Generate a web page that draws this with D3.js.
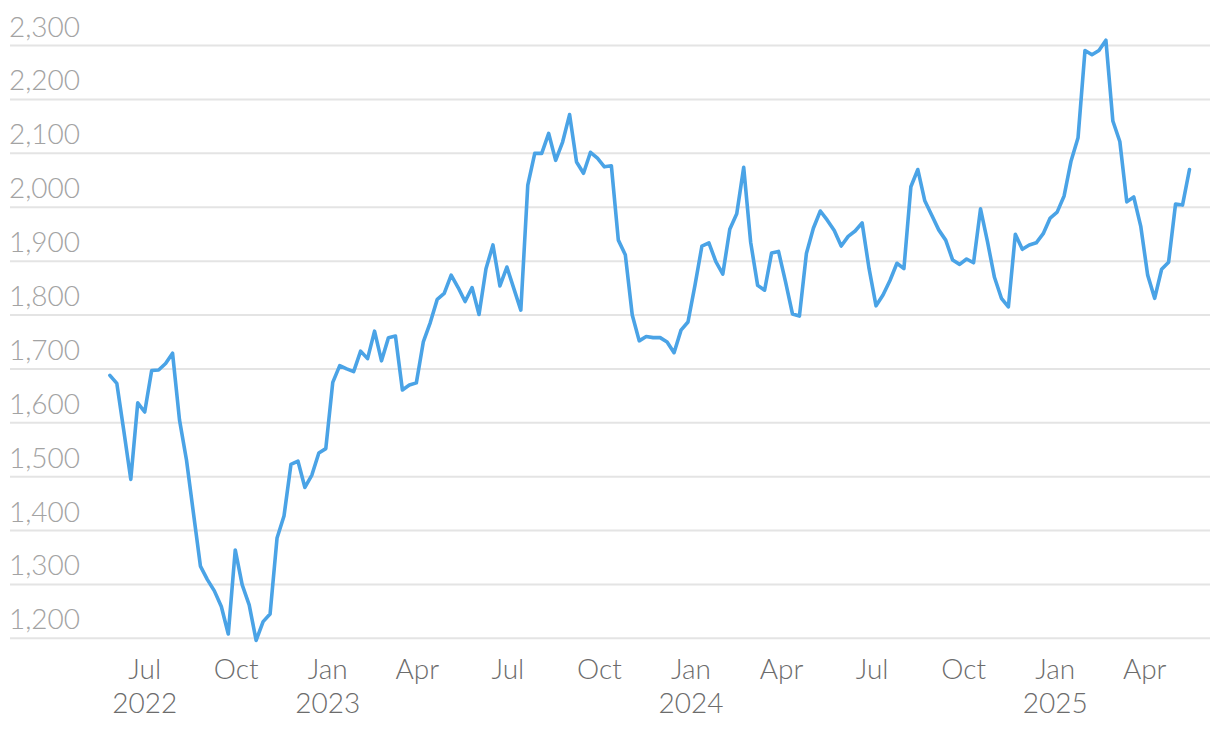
<!DOCTYPE html>
<html>
<head>
<meta charset="utf-8">
<script src="https://cdn.jsdelivr.net/npm/d3@7"></script>
<style>
  html, body { margin: 0; padding: 0; background: #ffffff; }
  svg { display: block; }
</style>
</head>
<body>
<svg id="chart" width="1220" height="732"></svg>
<script>
// Weekly observation dates
const dates = [
"2022-05-27","2022-06-03","2022-06-10","2022-06-17","2022-06-24","2022-07-01","2022-07-08","2022-07-15","2022-07-22","2022-07-29",
"2022-08-05","2022-08-12","2022-08-19","2022-08-26","2022-09-02","2022-09-09","2022-09-16","2022-09-23","2022-09-30","2022-10-07",
"2022-10-14","2022-10-21","2022-10-28","2022-11-04","2022-11-11","2022-11-18","2022-11-25","2022-12-02","2022-12-09","2022-12-16",
"2022-12-23","2022-12-30","2023-01-06","2023-01-13","2023-01-20","2023-01-27","2023-02-03","2023-02-10","2023-02-17","2023-02-24",
"2023-03-03","2023-03-10","2023-03-17","2023-03-24","2023-03-31","2023-04-07","2023-04-14","2023-04-21","2023-04-28","2023-05-05",
"2023-05-12","2023-05-19","2023-05-26","2023-06-02","2023-06-09","2023-06-16","2023-06-23","2023-06-30","2023-07-07","2023-07-14",
"2023-07-21","2023-07-28","2023-08-04","2023-08-11","2023-08-18","2023-08-25","2023-09-01","2023-09-08","2023-09-15","2023-09-22",
"2023-09-29","2023-10-06","2023-10-13","2023-10-20","2023-10-27","2023-11-03","2023-11-10","2023-11-17","2023-11-24","2023-12-01",
"2023-12-08","2023-12-15","2023-12-22","2023-12-29","2024-01-05","2024-01-12","2024-01-19","2024-01-26","2024-02-02","2024-02-09",
"2024-02-16","2024-02-23","2024-03-01","2024-03-08","2024-03-15","2024-03-22","2024-03-29","2024-04-05","2024-04-12","2024-04-19",
"2024-04-26","2024-05-03","2024-05-10","2024-05-17","2024-05-24","2024-05-31","2024-06-07","2024-06-14","2024-06-21","2024-06-28",
"2024-07-05","2024-07-12","2024-07-19","2024-07-26","2024-08-02","2024-08-09","2024-08-16","2024-08-23","2024-08-30","2024-09-06",
"2024-09-13","2024-09-20","2024-09-27","2024-10-04","2024-10-11","2024-10-18","2024-10-25","2024-11-01","2024-11-08","2024-11-15",
"2024-11-22","2024-11-29","2024-12-06","2024-12-13","2024-12-20","2024-12-27","2025-01-03","2025-01-10","2025-01-17","2025-01-24",
"2025-01-31","2025-02-07","2025-02-14","2025-02-21","2025-02-28","2025-03-07","2025-03-14","2025-03-21","2025-03-28","2025-04-04",
"2025-04-11","2025-04-18","2025-04-25","2025-05-02","2025-05-09","2025-05-16"
];

// Series values
const values = [
1688,1673,1585,1495,1637,1620,1697,1698,1710,1729,
1605,1531,1432,1334,1309,1288,1259,1208,1364,1299,
1262,1196,1231,1245,1386,1427,1523,1529,1480,1503,
1544,1552,1675,1706,1700,1695,1733,1719,1770,1715,
1758,1761,1661,1670,1674,1750,1786,1829,1840,1874,
1851,1825,1851,1801,1886,1930,1854,1889,1849,1809,
2041,2100,2100,2137,2087,2121,2172,2084,2063,2102,
2091,2075,2077,1939,1912,1800,1752,1760,1758,1758,
1750,1730,1772,1787,1855,1928,1934,1899,1876,1959,
1988,2074,1935,1855,1846,1915,1918,1862,1802,1798,
1914,1961,1993,1976,1957,1928,1946,1956,1971,1886,
1817,1837,1864,1896,1886,2038,2070,2012,1985,1958,
1939,1902,1894,1904,1897,1997,1936,1870,1831,1815,
1950,1922,1930,1934,1951,1980,1991,2021,2086,2129,
2291,2283,2291,2310,2160,2122,2010,2019,1965,1874,
1831,1885,1898,2006,2004,2070
];

// Tick labels
const yTicks = [1200,1300,1400,1500,1600,1700,1800,1900,2000,2100,2200,2300];
const xTickDates = ["2022-07-01","2022-10-01","2023-01-01","2023-04-01","2023-07-01","2023-10-01",
                    "2024-01-01","2024-04-01","2024-07-01","2024-10-01","2025-01-01","2025-04-01"];
const xTickMonths = ["Jul","Oct","Jan","Apr","Jul","Oct","Jan","Apr","Jul","Oct","Jan","Apr"];
const xTickYears  = ["2022","","2023","","","","2024","","","","2025",""];

const parse = d3.timeParse("%Y-%m-%d");
const data = dates.map((d, i) => ({ date: parse(d), value: values[i] }));

const svg = d3.select("#chart");
const font = "Lato, 'Open Sans', sans-serif";
const fs = 28;

const x = d3.scaleTime()
  .domain([parse("2022-07-01"), parse("2025-04-01")])
  .range([144.7, 1144.7]);

const y = d3.scaleLinear()
  .domain([1200, 2300])
  .range([638.3, 45.6]);

// Gridlines
svg.append("g").attr("class", "grid")
  .selectAll("line")
  .data(yTicks)
  .join("line")
  .attr("x1", 10)
  .attr("x2", 1210)
  .attr("y1", d => y(d))
  .attr("y2", d => y(d))
  .attr("stroke", "#e4e4e4")
  .attr("stroke-width", 2);

// Y labels (above gridlines, left aligned)
svg.append("g").selectAll("text")
  .data(yTicks)
  .join("text")
  .attr("x", 9)
  .attr("y", d => y(d) - 9)
  .attr("font-family", font)
  .attr("font-weight", 300)
  .attr("font-size", fs)
  .attr("fill", "#a3a3a3")
  .text(d => d3.format(",")(d));

// X labels
const xg = svg.append("g");
xTickDates.forEach((d, i) => {
  const xp = x(parse(d));
  xg.append("text")
    .attr("x", xp)
    .attr("y", 679)
    .attr("text-anchor", "middle")
    .attr("font-family", font)
    .attr("font-weight", 300)
    .attr("font-size", fs)
    .attr("fill", "#6c6c6c")
    .text(xTickMonths[i]);
  if (xTickYears[i]) {
    xg.append("text")
      .attr("x", xp)
      .attr("y", 713)
      .attr("text-anchor", "middle")
      .attr("font-family", font)
      .attr("font-weight", 300)
      .attr("font-size", fs)
      .attr("fill", "#6c6c6c")
      .text(xTickYears[i]);
  }
});

// Line
const line = d3.line()
  .x(d => x(d.date))
  .y(d => y(d.value));

svg.append("path")
  .datum(data)
  .attr("fill", "none")
  .attr("stroke", "#4aa3e6")
  .attr("stroke-width", 3.6)
  .attr("stroke-linejoin", "round")
  .attr("stroke-linecap", "round")
  .attr("d", line);
</script>
</body>
</html>
